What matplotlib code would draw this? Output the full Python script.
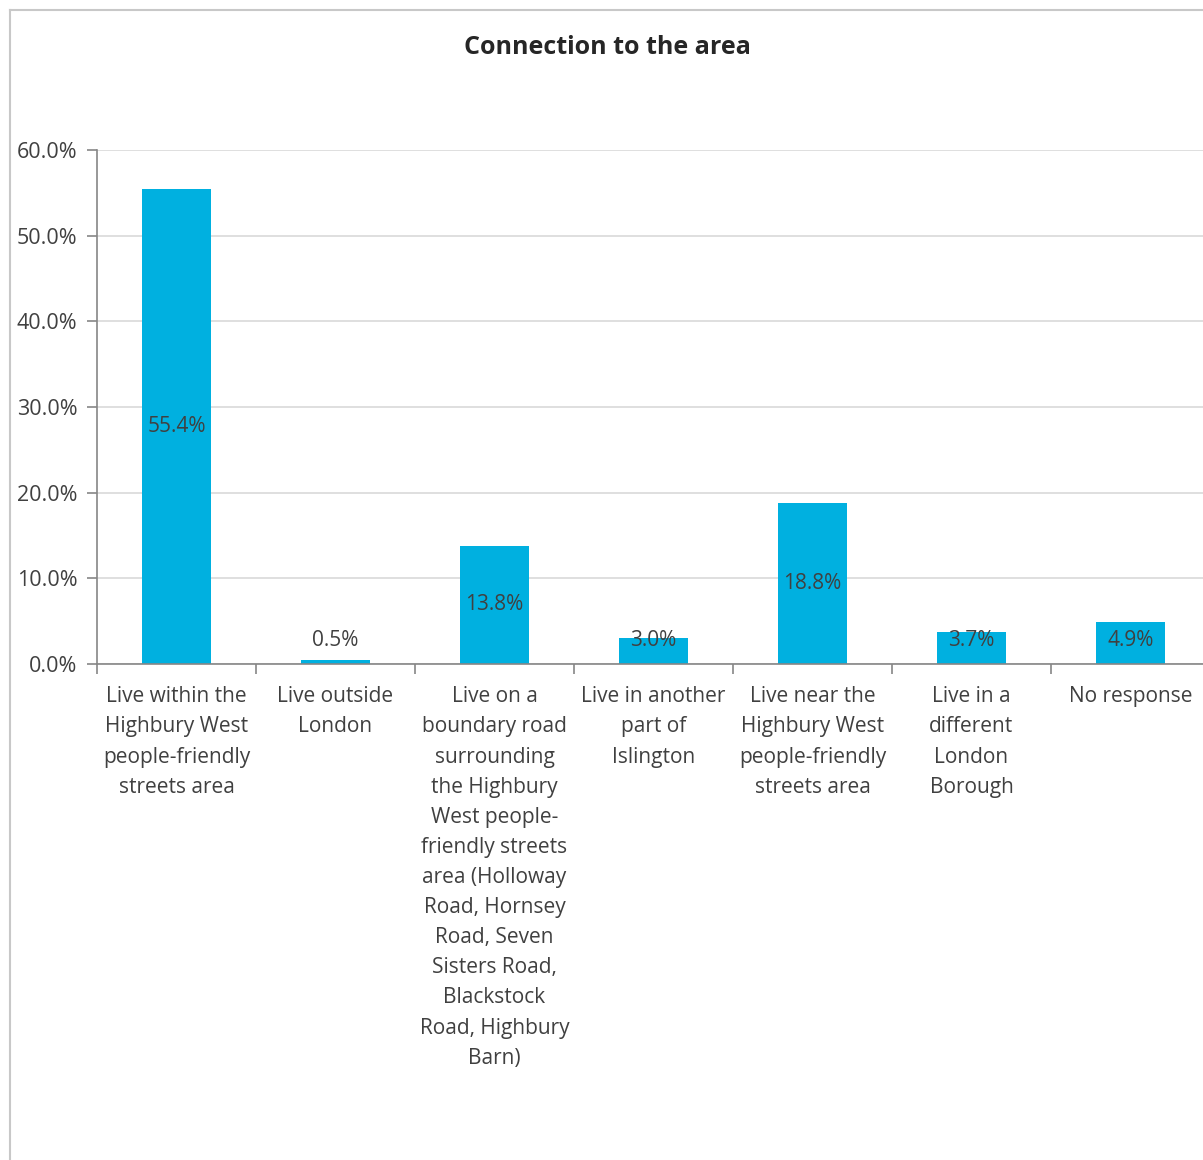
import matplotlib
matplotlib.use("Agg")
import matplotlib.pyplot as plt
from matplotlib.ticker import FuncFormatter, FixedLocator
from matplotlib.lines import Line2D

categories = [
    "Live within the\nHighbury West\npeople-friendly\nstreets area",
    "Live outside\nLondon",
    "Live on a\nboundary road\nsurrounding\nthe Highbury\nWest people-\nfriendly streets\narea (Holloway\nRoad, Hornsey\nRoad, Seven\nSisters Road,\nBlackstock\nRoad, Highbury\nBarn)",
    "Live in another\npart of\nIslington",
    "Live near the\nHighbury West\npeople-friendly\nstreets area",
    "Live in a\ndifferent\nLondon\nBorough",
    "No response",
]
values = [55.4, 0.5, 13.8, 3.0, 18.8, 3.7, 4.9]
labels = ["55.4%", "0.5%", "13.8%", "3.0%", "18.8%", "3.7%", "4.9%"]
yticks = [0, 10, 20, 30, 40, 50, 60]

plt.rcParams['font.family'] = ['Open Sans', 'DejaVu Sans']

W, H = 1203, 1160
fig = plt.figure(figsize=(W / 100, H / 100), dpi=100)
fig.patch.set_facecolor("white")

left = 97 / W
right = 1210 / W
bottom = 1 - 664 / H
top = 1 - 150 / H
ax = fig.add_axes([left, bottom, right - left, top - bottom])

n = len(values)
x = list(range(n))
bar_color = "#00B0E0"
ax.bar(x, values, width=0.44, color=bar_color, zorder=3)

ax.set_xlim(-0.5, n - 0.5)
ax.set_ylim(0, 60)
ax.yaxis.set_major_locator(FixedLocator(yticks))
ax.yaxis.set_major_formatter(FuncFormatter(lambda v, p: f"{v:.1f}%"))
ax.grid(axis="y", color="#d9d9d9", linewidth=1.2, zorder=0)
ax.set_axisbelow(True)

for s in ["top", "right"]:
    ax.spines[s].set_visible(False)
ax.spines["left"].set_color("#868686")
ax.spines["bottom"].set_color("#868686")
ax.spines["left"].set_linewidth(1.2)
ax.spines["bottom"].set_linewidth(1.2)
ax.spines["bottom"].set_zorder(4)

ax.tick_params(axis="y", direction="out", length=7, width=1.2, color="#868686",
               labelsize=15.5, labelcolor="#404040", pad=7)

# category boundary ticks
ax.set_xticks([i + 0.5 for i in range(-1, n)])
ax.set_xticklabels([])
ax.tick_params(axis="x", direction="out", length=7, width=1.2, color="#868686")

for i, lab in enumerate(categories):
    ax.text(i, -2.6, lab, ha="center", va="top", fontsize=15, color="#404040",
            linespacing=1.57, transform=ax.transData, clip_on=False)

for i, (v, lab) in enumerate(zip(values, labels)):
    ypos = max(v / 2, 2.8)
    ax.text(i, ypos, lab, ha="center", va="center", fontsize=15,
            color="#404040", zorder=5)

fig.text(607 / W, 1 - 47 / H, "Connection to the area", ha="center", va="center",
         fontsize=18, fontweight="bold", color="#262626")

# outer chart border
fig.add_artist(Line2D([10 / W, 10 / W], [0, 1 - 10 / H], transform=fig.transFigure,
                      color="#c8c8c8", linewidth=1.5))
fig.add_artist(Line2D([10 / W, 1], [1 - 10 / H, 1 - 10 / H], transform=fig.transFigure,
                      color="#c8c8c8", linewidth=1.5))

fig.savefig("out.png", dpi=100, facecolor="white")
